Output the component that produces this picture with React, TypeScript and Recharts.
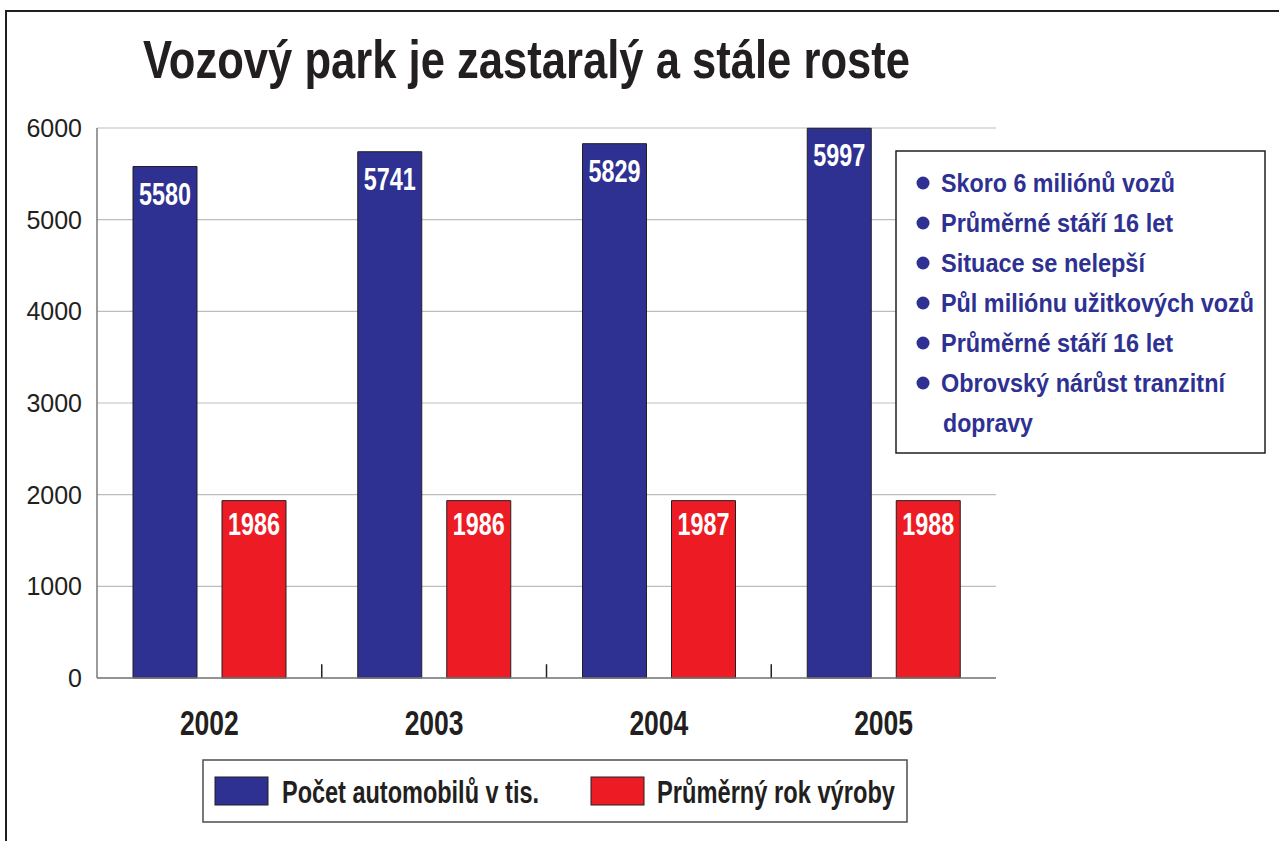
import React from 'react';
import { BarChart, Bar, XAxis, YAxis, CartesianGrid, LabelList, ReferenceLine } from 'recharts';

const categories = ['2002', '2003', '2004', '2005'];
const carCounts = [5580, 5741, 5829, 5997];
const avgYearValues = [1986, 1986, 1987, 1988];
const avgYearBarHeights = [1935, 1935, 1935, 1935];
const yTicks = [0, 1000, 2000, 3000, 4000, 5000, 6000];
const seriesNames = ['Počet automobilů v tis.', 'Průměrný rok výroby'];
const seriesColors = ['#2E3192', '#ED1C24'];
const bulletItems = [
  ['Skoro 6 miliónů vozů'],
  ['Průměrné stáří 16 let'],
  ['Situace se nelepší'],
  ['Půl miliónu užitkových vozů'],
  ['Průměrné stáří 16 let'],
  ['Obrovský nárůst tranzitní', 'dopravy'],
];
const title = 'Vozový park je zastaralý a stále roste';

// text widths (styling) used to condense the bold sans to the reference's condensed face
const bulletLineWidths = [234, 232, 204, 313, 232, 284, 90];
const legendTextWidths = [257, 238];

const BOLD = "'Liberation Sans', Arial, sans-serif";
const REGULAR = "'Liberation Sans', Arial, sans-serif";
const INK = '#231F20';

const data = categories.map((c, i) => ({
  year: c,
  cars: carCounts[i],
  avgYear: avgYearBarHeights[i],
  avgYearLabel: avgYearValues[i],
}));

const makeLabel = (dy: number) => (props: any) => {
  const { x, y, width, value } = props;
  return (
    <text
      x={Number(x) + Number(width) / 2}
      y={Number(y) + dy}
      textAnchor="middle"
      fill="#ffffff"
      fontSize={31}
      fontWeight="bold"
      fontFamily={BOLD}
      textLength={52}
      lengthAdjust="spacingAndGlyphs"
    >
      {value}
    </text>
  );
};

const XTick = (props: any) => {
  const { x, y, payload } = props;
  return (
    <text
      x={x}
      y={Number(y) + 57}
      textAnchor="middle"
      fontSize={35}
      fontWeight="bold"
      fill={INK}
      fontFamily={BOLD}
      textLength={59}
      lengthAdjust="spacingAndGlyphs"
    >
      {payload.value}
    </text>
  );
};

const YTick = (props: any) => {
  const { x, y, payload } = props;
  return (
    <text x={x} y={Number(y) + 9} textAnchor="end" fontSize={25} fill={INK} fontFamily={REGULAR}>
      {payload.value}
    </text>
  );
};

export default function App() {
  const lines: { text: string; bullet: boolean }[] = [];
  bulletItems.forEach((item) => item.forEach((t, j) => lines.push({ text: t, bullet: j === 0 })));
  return (
    <div style={{ position: 'absolute', left: 0, top: 0, width: 1279, height: 841, overflow: 'hidden', background: '#fff' }}>
      <div
        style={{
          position: 'absolute',
          left: 5,
          top: 10,
          width: 1400,
          height: 1000,
          borderTop: `2px solid ${INK}`,
          borderLeft: `2px solid ${INK}`,
        }}
      />
      <div style={{ position: 'absolute', left: 0, top: 0 }}>
        <BarChart width={1279} height={841} data={data} margin={{ top: 128, right: 283, bottom: 103, left: 0 }} barGap={25}>
          <CartesianGrid vertical={false} stroke="#BDBDBD" strokeWidth={1.2} />
          <XAxis
            dataKey="year"
            height={60}
            tickSize={0}
            tickMargin={0}
            tick={<XTick />}
            axisLine={{ stroke: '#7a7a7a', strokeWidth: 1.5 }}
            tickLine={false}
            interval={0}
          />
          <YAxis
            width={97}
            domain={[0, 6000]}
            ticks={yTicks}
            tickSize={0}
            tickMargin={15}
            tick={<YTick />}
            axisLine={{ stroke: '#7a7a7a', strokeWidth: 1.5 }}
            tickLine={false}
            interval={0}
          />
          <YAxis
            yAxisId="right"
            orientation="right"
            width={0}
            domain={[0, 6000]}
            tick={false}
            tickLine={false}
            axisLine={{ stroke: INK, strokeWidth: 1.5 }}
          />
          {categories.slice(0, 3).map((c) => (
            <ReferenceLine
              key={c}
              segment={[{ x: c, y: 0 }, { x: c, y: 150 }]}
              position="end"
              stroke={INK}
              strokeWidth={1.5}
              ifOverflow="visible"
            />
          ))}
          <Bar dataKey="cars" name={seriesNames[0]} fill={seriesColors[0]} stroke={INK} strokeWidth={1} barSize={64} isAnimationActive={false}>
            <LabelList dataKey="cars" content={makeLabel(38)} />
          </Bar>
          <Bar dataKey="avgYear" name={seriesNames[1]} fill={seriesColors[1]} stroke={INK} strokeWidth={1} barSize={64} isAnimationActive={false}>
            <LabelList dataKey="avgYearLabel" content={makeLabel(34)} />
          </Bar>
        </BarChart>
      </div>
      <svg width={1279} height={841} style={{ position: 'absolute', left: 0, top: 0, pointerEvents: 'none' }}>
        <text
          x={143}
          y={78}
          fontSize={53}
          fontWeight="bold"
          fill={INK}
          fontFamily={BOLD}
          textLength={767}
          lengthAdjust="spacingAndGlyphs"
        >
          {title}
        </text>
        <rect x={896} y={151} width={369} height={302} fill="#fff" stroke={INK} strokeWidth={1.5} />
        {lines.map((l, i) => (
          <g key={i}>
            {l.bullet && <circle cx={923} cy={192 + 40 * i - 9} r={6.5} fill={seriesColors[0]} />}
            <text
              x={l.bullet ? 941 : 943}
              y={192 + 40 * i}
              fontSize={26}
              fontWeight="bold"
              fill={seriesColors[0]}
              fontFamily={BOLD}
              textLength={bulletLineWidths[i]}
              lengthAdjust="spacingAndGlyphs"
            >
              {l.text}
            </text>
          </g>
        ))}
        <rect x={203} y={760} width={704} height={62} fill="#fff" stroke="#4d4d4d" strokeWidth={1.5} />
        <rect x={215} y={777} width={53} height={28} fill={seriesColors[0]} stroke={INK} strokeWidth={1} />
        <text
          x={282}
          y={803}
          fontSize={31}
          fontWeight="bold"
          fill={INK}
          fontFamily={BOLD}
          textLength={legendTextWidths[0]}
          lengthAdjust="spacingAndGlyphs"
        >
          {seriesNames[0]}
        </text>
        <rect x={591} y={777} width={53} height={28} fill={seriesColors[1]} stroke={INK} strokeWidth={1} />
        <text
          x={657}
          y={803}
          fontSize={31}
          fontWeight="bold"
          fill={INK}
          fontFamily={BOLD}
          textLength={legendTextWidths[1]}
          lengthAdjust="spacingAndGlyphs"
        >
          {seriesNames[1]}
        </text>
      </svg>
    </div>
  );
}
